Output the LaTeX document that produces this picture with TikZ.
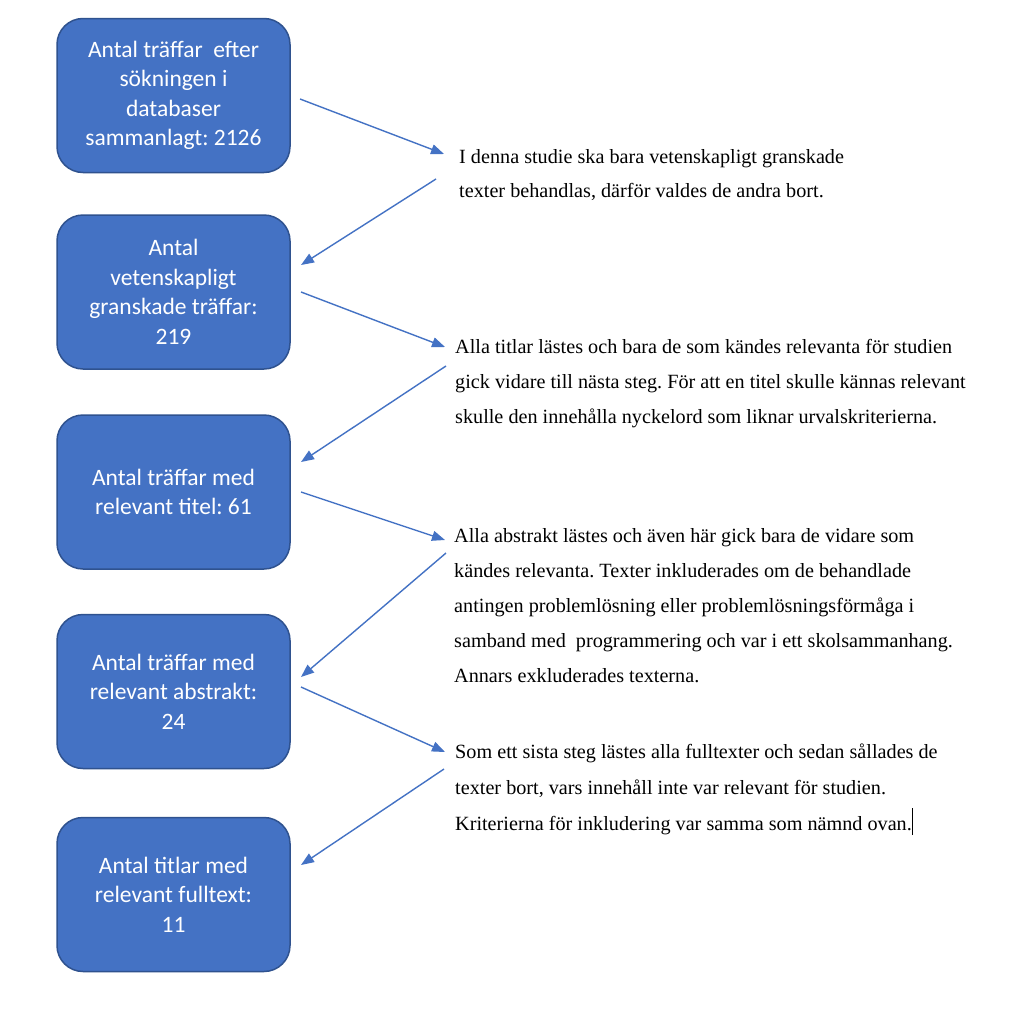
\documentclass[tikz,border=0pt]{standalone}
\usepackage{fontspec}
\setmainfont{Liberation Serif}
\newfontfamily\boxfont{Carlito}
\usetikzlibrary{arrows.meta}
\definecolor{boxfill}{HTML}{4472C4}
\definecolor{boxline}{HTML}{2F528F}
\definecolor{arrowcol}{HTML}{4472C4}
\frenchspacing
\tikzset{
  stepbox/.style={draw=boxline, line width=1.5pt, fill=boxfill, rounded corners=26pt,
    minimum width=233pt, minimum height=154pt, align=center, text=white,
    font=\boxfont\fontsize{23.5}{29.5}\selectfont, inner sep=2pt},
  note/.style={anchor=base west, inner sep=0pt, align=left, text=black,
    font=\fontsize{20.2}{35}\selectfont},
  flow/.style={draw=arrowcol, line width=1.4pt, -{Triangle[length=13pt,width=10pt]}}
}
\begin{document}
\begin{tikzpicture}[x=1pt,y=-1pt]
\useasboundingbox[fill=white] (0,0) rectangle (1024,1009);
% boxes
\node[stepbox] (b1) at (173.5,95.5) {Antal träffar\ \ efter\\sökningen i\\databaser\\sammanlagt: 2126};
\node[stepbox] (b2) at (173.5,292) {Antal\\vetenskapligt\\granskade träffar:\\219};
\node[stepbox] (b3) at (173.5,492) {Antal träffar med\\relevant titel: 61};
\node[stepbox] (b4) at (173.5,691.5) {Antal träffar med\\relevant abstrakt:\\24};
\node[stepbox] (b5) at (173.5,894.5) {Antal titlar med\\relevant fulltext:\\11};
% notes (anchored at the baseline of their last line)
\node[note, font=\fontsize{20.2}{34.5}\selectfont] (t1) at (459,197.5) {I denna studie ska bara vetenskapligt granskade\\texter behandlas, därför valdes de andra bort.};
\node[note] (t2) at (455,423.5) {Alla titlar lästes och bara de som kändes relevanta för studien\\gick vidare till nästa steg. För att en titel skulle kännas relevant\\skulle den innehålla nyckelord som liknar urvalskriterierna.};
\node[note] (t3) at (454,682) {Alla abstrakt lästes och även här gick bara de vidare som\\kändes relevanta. Texter inkluderades om de behandlade\\antingen problemlösning eller problemlösningsförmåga i\\samband med\ \ programmering och var i ett skolsammanhang.\\Annars exkluderades texterna.};
\node[note, font=\fontsize{20.2}{36}\selectfont] (t4) at (455,830) {Som ett sista steg lästes alla fulltexter och sedan sållades de\\texter bort, vars innehåll inte var relevant för studien.\\Kriterierna för inkludering var samma som nämnd ovan.\rule[-5pt]{1.6pt}{27pt}};
% connector ends
\coordinate (a1s) at (300,99);   \coordinate (a1e) at (444,154);
\coordinate (a2s) at (436,179);  \coordinate (a2e) at (301,265);
\coordinate (a3s) at (301,292);  \coordinate (a3e) at (445,347);
\coordinate (a4s) at (446,366);  \coordinate (a4e) at (301,462);
\coordinate (a5s) at (301,492);  \coordinate (a5e) at (445,540);
\coordinate (a6s) at (446,553);  \coordinate (a6e) at (301,677);
\coordinate (a7s) at (301,687);  \coordinate (a7e) at (445,752);
\coordinate (a8s) at (444,769);  \coordinate (a8e) at (301,865);
\draw[flow] (a1s) -- (a1e);
\draw[flow] (a2s) -- (a2e);
\draw[flow] (a3s) -- (a3e);
\draw[flow] (a4s) -- (a4e);
\draw[flow] (a5s) -- (a5e);
\draw[flow] (a6s) -- (a6e);
\draw[flow] (a7s) -- (a7e);
\draw[flow] (a8s) -- (a8e);
\end{tikzpicture}
\end{document}
